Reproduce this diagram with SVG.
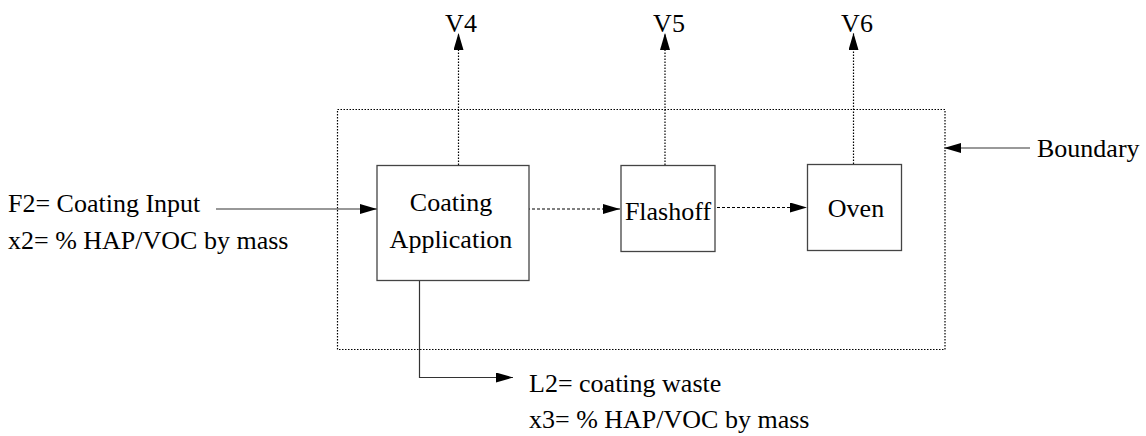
<svg xmlns="http://www.w3.org/2000/svg" width="1146" height="436" viewBox="0 0 1146 436">
<defs>
<marker id="ah" markerUnits="userSpaceOnUse" markerWidth="18" markerHeight="12" refX="17" refY="5" orient="auto">
<path d="M0,0 L17,5 L0,10 Z" fill="#000"/>
</marker>
</defs>
<rect width="1146" height="436" fill="#fff"/>
<g id="boundary">
<rect x="337.5" y="109.5" width="607.5" height="240" fill="none" stroke="#000" stroke-width="1.2" stroke-dasharray="1.5 1.5"/>
</g>
<g id="connectors" fill="none" stroke-width="1.2">
<g stroke="#000" stroke-dasharray="1.5 1.5">
<path d="M458.5,165 V33" marker-end="url(#ah)"/>
<path d="M665,165 V33" marker-end="url(#ah)"/>
<path d="M853.5,164 V33" marker-end="url(#ah)"/>
</g>
<g stroke="#000" stroke-dasharray="3 2">
<path d="M527,209 H620" marker-end="url(#ah)"/>
<path d="M712,207.5 H807" marker-end="url(#ah)"/>
</g>
<g stroke="#333">
<path d="M216,209 H377" marker-end="url(#ah)"/>
<path d="M419.5,281 V377.5 H513" marker-end="url(#ah)"/>
</g>
<path stroke="#777" stroke-width="1.5" d="M1030,148 H944" marker-end="url(#ah)"/>
</g>
<g id="coating">
<rect fill="#fff" stroke="#444" stroke-width="1.3" x="377" y="165.5" width="152" height="115"/>
<text x="451" y="211" text-anchor="middle" style="font-family:'Times New Roman','Liberation Serif',serif;font-size:26px">Coating</text>
<text x="451" y="248" text-anchor="middle" style="font-family:'Times New Roman','Liberation Serif',serif;font-size:26px">Application</text>
</g>
<g id="flashoff">
<rect fill="#fff" stroke="#444" stroke-width="1.3" x="621" y="165.5" width="94" height="86"/>
<text x="668" y="220" text-anchor="middle" style="font-family:'Times New Roman','Liberation Serif',serif;font-size:26px">Flashoff</text>
</g>
<g id="oven">
<rect fill="#fff" stroke="#444" stroke-width="1.3" x="807.5" y="164.5" width="94" height="86"/>
<text x="856" y="217" text-anchor="middle" style="font-family:'Times New Roman','Liberation Serif',serif;font-size:26px">Oven</text>
</g>
<g id="labels">
<text x="461" y="32" text-anchor="middle" style="font-family:'Times New Roman','Liberation Serif',serif;font-size:26px">V4</text>
<text x="669" y="32" text-anchor="middle" style="font-family:'Times New Roman','Liberation Serif',serif;font-size:26px">V5</text>
<text x="857" y="32" text-anchor="middle" style="font-family:'Times New Roman','Liberation Serif',serif;font-size:26px">V6</text>
<text x="1037" y="157" style="font-family:'Times New Roman','Liberation Serif',serif;font-size:26px">Boundary</text>
<text x="8" y="212" style="font-family:'Times New Roman','Liberation Serif',serif;font-size:26px">F2= Coating Input</text>
<text x="8" y="249" style="font-family:'Times New Roman','Liberation Serif',serif;font-size:26px">x2= % HAP/VOC by mass</text>
<text x="529" y="392" style="font-family:'Times New Roman','Liberation Serif',serif;font-size:26px">L2= coating waste</text>
<text x="529" y="428" style="font-family:'Times New Roman','Liberation Serif',serif;font-size:26px">x3= % HAP/VOC by mass</text>
</g>
</svg>
